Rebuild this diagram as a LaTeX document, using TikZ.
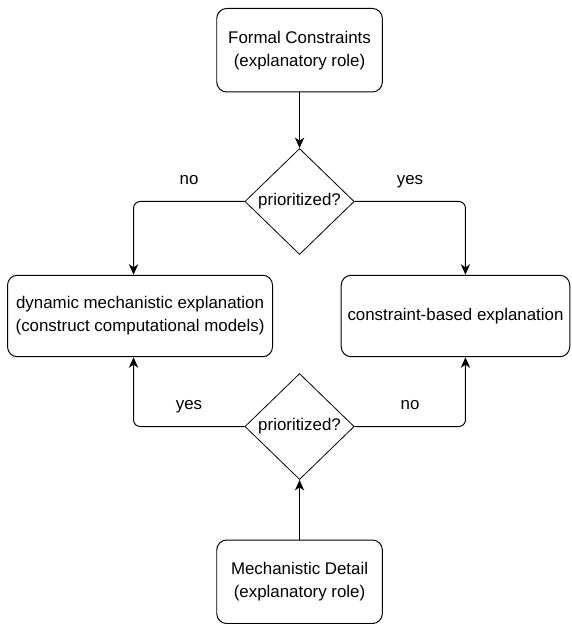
\documentclass[tikz,border=0pt]{standalone}
\usepackage{fontspec}
\setmainfont{Liberation Sans}
\usepackage{tikz}
\usetikzlibrary{arrows.meta, positioning}
\usetikzlibrary{shapes.geometric}
\tikzstyle{process} = [rectangle, rounded corners=7.5pt, minimum width=125pt, minimum height=63pt, align=center, draw=black, line width=0.75pt]
\tikzstyle{decision} = [diamond, minimum width=82.5pt, minimum height=80pt, inner sep=1pt, text centered, draw=black, line width=0.6pt]
\tikzstyle{arrow} = [line width=0.75pt, rounded corners=5pt, -{Stealth[length=8pt, width=7pt, inset=2.5pt]}]
\tikzstyle{answer} = [anchor=base, yshift=12.5pt]

\begin{document}
\begin{tikzpicture}[font=\fontsize{12.75}{17.25}\selectfont]
% Nodes
\node (F) [process] {Formal Constraints\\(explanatory role)};
\node (P1) [decision, below=42pt of F] {prioritized?};
\node (L) [process, minimum width=200pt, minimum height=61.5pt, below=15pt of P1, xshift=-120.4pt] {dynamic mechanistic explanation\\(construct computational models)};
\node (R) [process, minimum width=172.5pt, minimum height=61.5pt, below=15pt of P1, xshift=117.7pt] {constraint-based explanation};
\node (P2) [decision, below=89.25pt of P1] {prioritized?};
\node (M) [process, below=45pt of P2] {Mechanistic Detail\\(explanatory role)};

\useasboundingbox ([xshift=-226.1pt, yshift=37.9pt]F.center) rectangle ([xshift=205.1pt, yshift=-430.1pt]F.center);

% Paths
\draw [arrow] (F) -- (P1);
\draw [arrow] (P1.west) -| node[answer, pos=0.25] {no} ([xshift=-4.9pt]L.north);
\draw [arrow] (P1.east) -| node[answer, pos=0.25] {yes} ([xshift=7.5pt]R.north);
\draw [arrow] (M) -- (P2);
\draw [arrow] (P2.west) -| node[answer, pos=0.25] {yes} ([xshift=-4.9pt]L.south);
\draw [arrow] (P2.east) -| node[answer, pos=0.25] {no} ([xshift=7.5pt]R.south);

\end{tikzpicture}
\end{document}
